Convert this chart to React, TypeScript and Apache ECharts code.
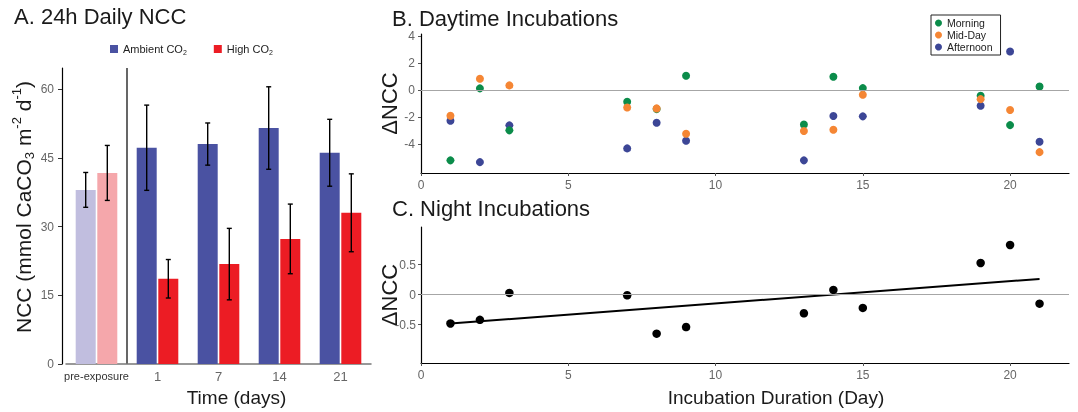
import React, { useEffect, useRef } from 'react';
import * as echarts from 'echarts';

// ---------- Panel A data ----------
const timeCategories = ['pre-exposure', '1', '7', '14', '21'];
const ambientMean = [38.0, 47.2, 48.0, 51.5, 46.1];
const ambientErr = [3.8, 9.3, 4.6, 9.0, 7.3];
const highMean = [41.7, 18.6, 21.8, 27.3, 33.0];
const highErr = [6.0, 4.2, 7.8, 7.6, 8.5];
const nccTicks = [0, 15, 30, 45, 60];

// ---------- Panel B data ----------
const dayDays = [1, 2, 3, 7, 8, 9, 13, 14, 15, 19, 20, 21];
const morning = [-5.21, 0.14, -2.98, -0.85, -1.4, 1.08, -2.54, 1.0, 0.16, -0.41, -2.59, 0.28];
const midDay = [-1.89, 0.85, 0.36, -1.28, -1.35, -3.23, -3.03, -2.93, -0.33, -0.66, -1.47, -4.6];
const afternoon = [-2.27, -5.34, -2.61, -4.32, -2.41, -3.75, -5.21, -1.92, -1.94, -1.15, 2.88, -3.83];
const dayTicks = [-4, -2, 0, 2, 4];
const durationTicks = [0, 5, 10, 15, 20];

// ---------- Panel C data ----------
const nightDays = [1, 2, 3, 7, 8, 9, 13, 14, 15, 19, 20, 21];
const night = [-0.48, -0.42, 0.03, -0.01, -0.65, -0.54, -0.31, 0.08, -0.22, 0.53, 0.83, -0.15];
const nightTicks = [-0.5, 0, 0.5];

const sans = '"Liberation Sans", Arial, Helvetica, sans-serif';
const narrow = '"Liberation Sans Narrow", "Arial Narrow", "Liberation Sans", sans-serif';

const C_AMB = '#4A52A2';
const C_HIGH = '#EC1C24';
const C_AMB_PRE = '#C1BEDF';
const C_HIGH_PRE = '#F5A7AB';
const C_MORN = '#0B8C4A';
const C_MID = '#F58634';
const C_AFT = '#3C4696';

const A_MAX = 64.6;

function regression(xs: number[], ys: number[]) {
  const n = xs.length;
  const mx = xs.reduce((a, b) => a + b, 0) / n;
  const my = ys.reduce((a, b) => a + b, 0) / n;
  let sxx = 0;
  let sxy = 0;
  for (let i = 0; i < n; i++) {
    sxx += (xs[i] - mx) * (xs[i] - mx);
    sxy += (xs[i] - mx) * (ys[i] - my);
  }
  const slope = sxy / sxx;
  return { slope, intercept: my - slope * mx };
}

function errorSeries(name: string, means: number[], errs: number[], offset: number) {
  return {
    type: 'custom',
    name,
    xAxisIndex: 0,
    yAxisIndex: 0,
    z: 5,
    silent: true,
    data: means.map((m, i) => [i, m - errs[i], m + errs[i]]),
    encode: { x: 0, y: [1, 2] },
    renderItem: (params: any, api: any) => {
      const i = api.value(0);
      const lo = api.coord([i, api.value(1)]);
      const hi = api.coord([i, api.value(2)]);
      const x = lo[0] + offset;
      const cap = 2.5;
      const style = { stroke: '#000', lineWidth: 1.4 };
      return {
        type: 'group',
        children: [
          { type: 'line', shape: { x1: x, y1: lo[1], x2: x, y2: hi[1] }, style },
          { type: 'line', shape: { x1: x - cap, y1: lo[1], x2: x + cap, y2: lo[1] }, style },
          { type: 'line', shape: { x1: x - cap, y1: hi[1], x2: x + cap, y2: hi[1] }, style },
        ],
      };
    },
  };
}

export default function App() {
  const ref = useRef<HTMLDivElement>(null);

  useEffect(() => {
    if (!ref.current) return;
    const chart = echarts.init(ref.current, undefined, { renderer: 'svg' });
    const fit = regression(nightDays, night);
    const tx = [Math.min(...nightDays), Math.max(...nightDays)];
    const trend = tx.map((x) => [x, fit.intercept + fit.slope * x]);

    const titleStyle = { fontSize: 22, fontWeight: 'normal', color: '#1a1a1a', fontFamily: sans };
    const tickLabel = { fontSize: 12, color: '#666', fontFamily: narrow };
    const zeroLine = {
      silent: true,
      symbol: 'none',
      label: { show: false },
      lineStyle: { color: '#a6a6a6', type: 'solid', width: 1 },
      data: [{ yAxis: 0 }],
    };

    const option: any = {
      animation: false,
      textStyle: { fontFamily: sans },
      title: [
        { text: 'A. 24h Daily NCC', left: 14, top: 5, padding: 0, textStyle: titleStyle },
        { text: 'B. Daytime Incubations', left: 392, top: 7, padding: 0, textStyle: titleStyle },
        { text: 'C. Night Incubations', left: 392, top: 197, padding: 0, textStyle: titleStyle },
      ],
      legend: [
        {
          data: ['Ambient CO2', 'High CO2'],
          left: 110,
          top: 42,
          padding: 0,
          icon: 'rect',
          itemWidth: 8,
          itemHeight: 8,
          itemGap: 27,
          itemTextGap: 5,
          formatter: (n: string) => n.replace('CO2', 'CO{sub|2}'),
          textStyle: {
            fontSize: 11,
            color: '#222',
            lineHeight: 14,
            fontFamily: sans,
            rich: { sub: { fontSize: 7, lineHeight: 7, verticalAlign: 'bottom', fontFamily: sans, color: '#222' } },
          },
        },
        {
          data: ['Morning', 'Mid-Day', 'Afternoon'],
          orient: 'vertical',
          left: 931,
          top: 15,
          padding: [2, 8, 2, 4],
          borderColor: '#222',
          borderWidth: 1,
          icon: 'circle',
          itemWidth: 7,
          itemHeight: 7,
          itemGap: 0,
          itemTextGap: 3,
          textStyle: { fontSize: 10.5, color: '#222', lineHeight: 12, fontFamily: sans },
        },
      ],
      grid: [
        { left: 66, top: 68, width: 305, height: 296, outerBoundsMode: 'none' },
        { left: 421, top: 34, width: 648, height: 139, outerBoundsMode: 'none' },
        { left: 421, top: 227, width: 648, height: 136, outerBoundsMode: 'none' },
      ],
      xAxis: [
        {
          gridIndex: 0,
          type: 'category',
          data: timeCategories.map((c, i) =>
            i === 0 ? { value: c, textStyle: { fontSize: 11, color: '#333', fontFamily: sans } } : c
          ),
          axisLine: { onZero: false, lineStyle: { color: '#777', width: 1.5 } },
          axisTick: { alignWithLabel: true, interval: 0, length: 3, lineStyle: { color: '#555' } },
          axisLabel: { interval: 0, hideOverlap: false, fontSize: 13, color: '#666', margin: 6, fontFamily: sans },
          splitLine: { show: false },
          name: 'Time (days)',
          nameLocation: 'middle',
          nameGap: 24,
          nameMoveOverlap: false,
          nameTextStyle: { fontSize: 19, color: '#1a1a1a', padding: [0, 0, 0, 36], fontFamily: sans },
        },
        {
          gridIndex: 1,
          type: 'value',
          min: 0,
          max: 22,
          axisLine: { show: true, onZero: false, lineStyle: { color: '#000', width: 1.2 } },
          axisTick: { show: true, customValues: durationTicks, length: 3, lineStyle: { color: '#555' } },
          axisLabel: { customValues: durationTicks, margin: 6, ...tickLabel },
          splitLine: { show: false },
        },
        {
          gridIndex: 2,
          type: 'value',
          min: 0,
          max: 22,
          axisLine: { show: true, onZero: false, lineStyle: { color: '#000', width: 1.2 } },
          axisTick: { show: true, customValues: durationTicks, length: 3, lineStyle: { color: '#555' } },
          axisLabel: { customValues: durationTicks, margin: 6, ...tickLabel },
          splitLine: { show: false },
          name: 'Incubation Duration (Day)',
          nameLocation: 'middle',
          nameGap: 25,
          nameMoveOverlap: false,
          nameTextStyle: { fontSize: 19, color: '#1a1a1a', padding: [0, 0, 0, 62], fontFamily: sans },
        },
      ],
      yAxis: [
        {
          gridIndex: 0,
          type: 'value',
          min: 0,
          max: A_MAX,
          offset: 4,
          axisLine: { show: true, onZero: false, lineStyle: { color: '#000', width: 1.2 } },
          axisTick: { show: true, customValues: nccTicks, length: 4, lineStyle: { color: '#333' } },
          axisLabel: { customValues: nccTicks, margin: 8, ...tickLabel },
          splitLine: { show: false },
          name: 'NCC (mmol CaCO{sub|3} m{sup|-2} d{sup|-1})',
          nameLocation: 'middle',
          nameRotate: 90,
          nameGap: 26,
          nameMoveOverlap: false,
          nameTextStyle: {
            fontSize: 21,
            color: '#1a1a1a',
            lineHeight: 26,
            fontFamily: sans,
            padding: [0, 0, 0, 18],
            rich: {
              sub: { fontSize: 13, lineHeight: 12, verticalAlign: 'bottom', color: '#1a1a1a', fontFamily: sans },
              sup: { fontSize: 13, lineHeight: 12, verticalAlign: 'top', color: '#1a1a1a', fontFamily: sans },
            },
          },
        },
        {
          gridIndex: 1,
          type: 'value',
          min: -6.15,
          max: 4.18,
          axisLine: { show: true, onZero: false, lineStyle: { color: '#000', width: 1.2 } },
          axisTick: { show: true, customValues: dayTicks, length: 3, lineStyle: { color: '#555' } },
          axisLabel: { customValues: dayTicks, margin: 6, ...tickLabel },
          splitLine: { show: false },
          name: 'ΔNCC',
          nameLocation: 'middle',
          nameRotate: 90,
          nameGap: 21,
          nameMoveOverlap: false,
          nameTextStyle: { fontSize: 22, color: '#1a1a1a', fontFamily: sans },
        },
        {
          gridIndex: 2,
          type: 'value',
          min: -1.14,
          max: 1.13,
          axisLine: { show: true, onZero: false, lineStyle: { color: '#000', width: 1.2 } },
          axisTick: { show: true, customValues: nightTicks, length: 3, lineStyle: { color: '#555' } },
          axisLabel: { customValues: nightTicks, margin: 5, ...tickLabel },
          splitLine: { show: false },
          name: 'ΔNCC',
          nameLocation: 'middle',
          nameRotate: 90,
          nameGap: 21,
          nameMoveOverlap: false,
          nameTextStyle: { fontSize: 22, color: '#1a1a1a', fontFamily: sans },
        },
      ],
      series: [
        {
          type: 'bar',
          name: 'Ambient CO2',
          xAxisIndex: 0,
          yAxisIndex: 0,
          barWidth: 20,
          barGap: '8%',
          itemStyle: { color: C_AMB },
          data: ambientMean.map((v, i) => (i === 0 ? { value: v, itemStyle: { color: C_AMB_PRE } } : v)),
        },
        {
          type: 'bar',
          name: 'High CO2',
          xAxisIndex: 0,
          yAxisIndex: 0,
          barWidth: 20,
          barGap: '8%',
          itemStyle: { color: C_HIGH },
          data: highMean.map((v, i) => (i === 0 ? { value: v, itemStyle: { color: C_HIGH_PRE } } : v)),
        },
        errorSeries('err-ambient', ambientMean, ambientErr, -10.8),
        errorSeries('err-high', highMean, highErr, 10.8),
        {
          type: 'scatter',
          name: 'Afternoon',
          xAxisIndex: 1,
          yAxisIndex: 1,
          symbolSize: 8,
          itemStyle: { color: C_AFT, opacity: 1 },
          data: dayDays.map((d, i) => [d, afternoon[i]]),
          markLine: zeroLine,
        },
        {
          type: 'scatter',
          name: 'Morning',
          xAxisIndex: 1,
          yAxisIndex: 1,
          symbolSize: 8,
          itemStyle: { color: C_MORN, opacity: 1 },
          data: dayDays.map((d, i) => [d, morning[i]]),
        },
        {
          type: 'scatter',
          name: 'Mid-Day',
          xAxisIndex: 1,
          yAxisIndex: 1,
          symbolSize: 8,
          itemStyle: { color: C_MID, opacity: 1 },
          data: dayDays.map((d, i) => [d, midDay[i]]),
        },
        {
          type: 'scatter',
          name: 'Night',
          xAxisIndex: 2,
          yAxisIndex: 2,
          symbolSize: 8.5,
          itemStyle: { color: '#000', opacity: 1 },
          data: nightDays.map((d, i) => [d, night[i]]),
          markLine: zeroLine,
        },
        {
          type: 'line',
          name: 'Trend',
          xAxisIndex: 2,
          yAxisIndex: 2,
          symbol: 'none',
          silent: true,
          lineStyle: { color: '#000', width: 2 },
          data: trend,
          z: 3,
        },
      ],
    };

    chart.setOption(option);

    // divider between pre-exposure and the exposure days, placed via the category scale
    const xa = chart.convertToPixel({ xAxisIndex: 0 }, timeCategories[0]) as number;
    const xb = chart.convertToPixel({ xAxisIndex: 0 }, timeCategories[1]) as number;
    const yTop = chart.convertToPixel({ yAxisIndex: 0 }, A_MAX) as number;
    const yBot = chart.convertToPixel({ yAxisIndex: 0 }, 0) as number;
    const xd = (xa + xb) / 2;
    chart.setOption({
      graphic: [
        {
          type: 'line',
          shape: { x1: xd, y1: yTop, x2: xd, y2: yBot },
          style: { stroke: '#000', lineWidth: 1.2 },
          silent: true,
        },
      ],
    });

    return () => chart.dispose();
  }, []);

  return <div ref={ref} style={{ position: 'fixed', left: 0, top: 0, width: 1078, height: 412 }} />;
}
